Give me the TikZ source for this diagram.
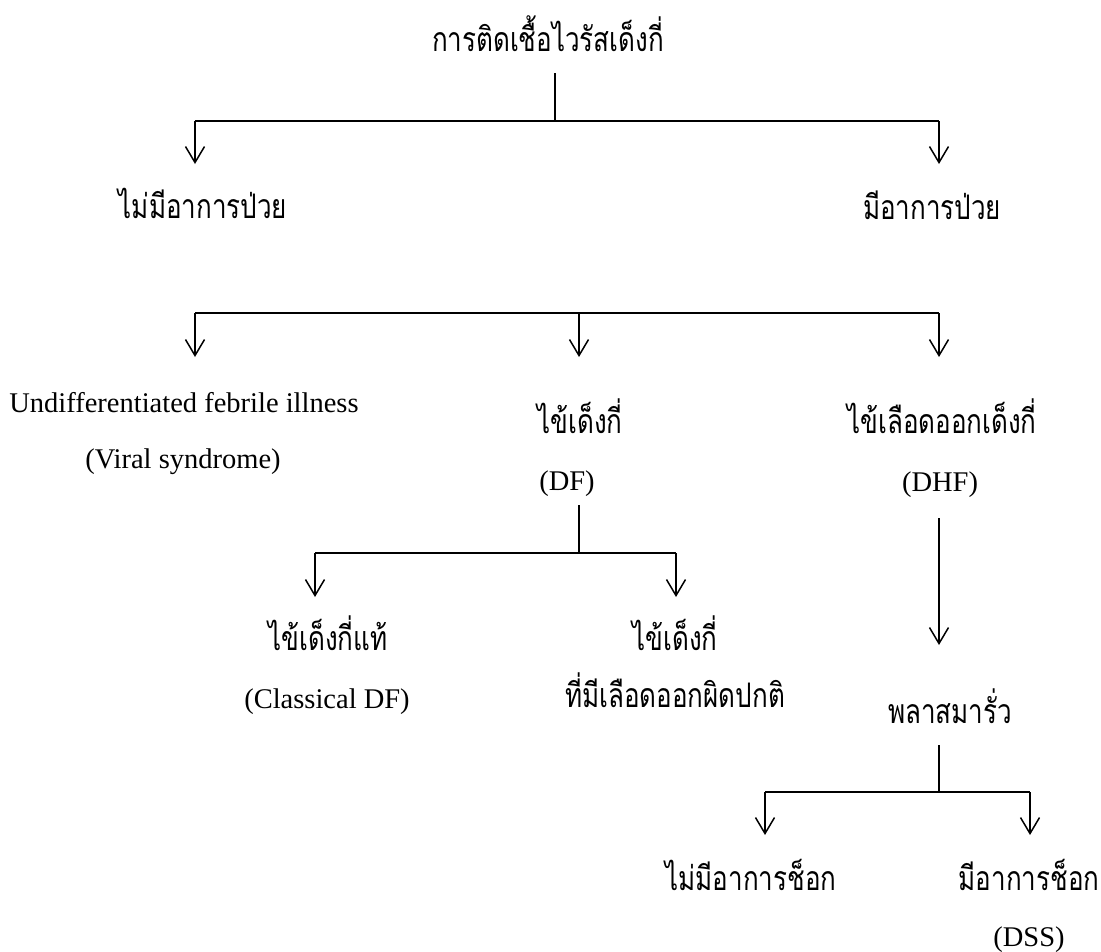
\documentclass[tikz,border=0pt]{standalone}
\usepackage{fontspec}
\setmainfont{Liberation Serif}
\newfontfamily\thaifont[Script=Thai]{Loma}
\usetikzlibrary{arrows.meta}
\newcommand{\thtxt}[1]{\scalebox{1}[1.3]{\thaifont\fontsize{26}{30}\selectfont #1}}
\tikzset{
  th/.style={inner sep=0pt, anchor=base},
  en/.style={inner sep=0pt, anchor=base, font=\fontsize{28.5}{32}\selectfont},
  hline/.style={line width=1.8pt},
  vline/.style={line width=1.5pt},
  arr/.style={line width=1.5pt, -{Straight Barb[length=16pt,width=19pt,line width=1.5pt]}},
}
\begin{document}
\begin{tikzpicture}[x=1pt,y=-1pt]
\useasboundingbox (0,0) rectangle (1101,951);
% nodes
\node[th] (top) at (548,51) {\thtxt{การติดเชื้อไวรัสเด็งกี่}};
\node[th] (nosick) at (203,218) {\thtxt{ไม่มีอาการป่วย}};
\node[th] (sick) at (932,219) {\thtxt{มีอาการป่วย}};
\node[en] (undiff) at (184,412) {Undifferentiated febrile illness};
\node[en] (viral) at (183,468) {(Viral syndrome)};
\node[th] (df) at (580,433) {\thtxt{ไข้เด็งกี่}};
\node[en] (dfen) at (567,490) {(DF)};
\node[th] (dhf) at (942,433) {\thtxt{ไข้เลือดออกเด็งกี่}};
\node[en] (dhfen) at (940,491) {(DHF)};
\node[th] (cdf) at (328,650) {\thtxt{ไข้เด็งกี่แท้}};
\node[en] (cdfen) at (327,708) {(Classical DF)};
\node[th] (udf) at (675,650) {\thtxt{ไข้เด็งกี่}};
\node[th] (udf2) at (675,707) {\thtxt{ที่มีเลือดออกผิดปกติ}};
\node[th] (plasma) at (950,723) {\thtxt{พลาสมารั่ว}};
\node[th] (noshock) at (751,890) {\thtxt{ไม่มีอาการช็อก}};
\node[th] (shock) at (1029,890) {\thtxt{มีอาการช็อก}};
\node[en] (dss) at (1029,946) {(DSS)};
% coordinates
\coordinate (a0) at (555,73);
\coordinate (a1) at (555,121);
\coordinate (aL) at (195,121);
\coordinate (aR) at (939,121);
\coordinate (aLe) at (195,164);
\coordinate (aRe) at (939,164);
\coordinate (bL) at (195,313);
\coordinate (bM) at (579,313);
\coordinate (bR) at (939,313);
\coordinate (bLe) at (195,357);
\coordinate (bMe) at (579,357);
\coordinate (bRe) at (939,357);
\coordinate (c0) at (579,505);
\coordinate (c1) at (579,553);
\coordinate (cL) at (315,553);
\coordinate (cR) at (676,553);
\coordinate (cLe) at (315,597);
\coordinate (cRe) at (676,597);
\coordinate (d0) at (939,518);
\coordinate (d1) at (939,645);
\coordinate (e0) at (939,745);
\coordinate (e1) at (939,792);
\coordinate (eL) at (765,792);
\coordinate (eR) at (1030,792);
\coordinate (eLe) at (765,835);
\coordinate (eRe) at (1030,835);
% connectors
\draw[vline] (a0) -- (a1);
\draw[hline] (aL) -- (aR);
\draw[arr] (aL) -- (aLe);
\draw[arr] (aR) -- (aRe);
\draw[hline] (bL) -- (bR);
\draw[arr] (bL) -- (bLe);
\draw[arr] (bM) -- (bMe);
\draw[arr] (bR) -- (bRe);
\draw[vline] (c0) -- (c1);
\draw[hline] (cL) -- (cR);
\draw[arr] (cL) -- (cLe);
\draw[arr] (cR) -- (cRe);
\draw[arr] (d0) -- (d1);
\draw[vline] (e0) -- (e1);
\draw[hline] (eL) -- (eR);
\draw[arr] (eL) -- (eLe);
\draw[arr] (eR) -- (eRe);
\end{tikzpicture}
\end{document}
